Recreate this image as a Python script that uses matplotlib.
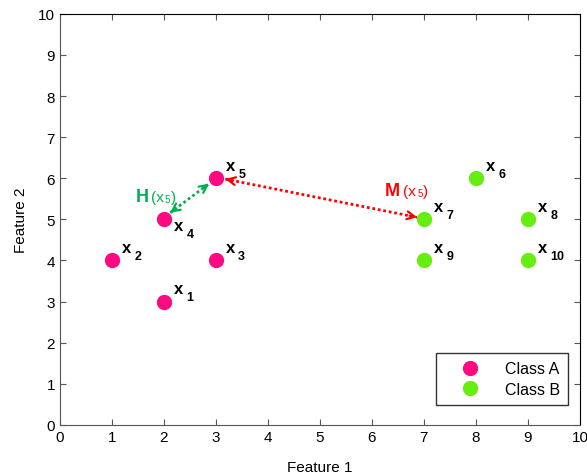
import numpy as np
import matplotlib.pyplot as plt

plt.rcParams['font.family'] = ['Liberation Sans', 'DejaVu Sans']

# ── Données ──────────────────────────────────────────────────────────────────
class_a_x = [2, 1, 3, 2, 3]
class_a_y = [3, 4, 4, 5, 6]
class_a_ids = [1, 2, 3, 4, 5]

class_b_x = [8, 7, 9, 7, 9]
class_b_y = [6, 5, 5, 4, 4]
class_b_ids = [6, 7, 8, 9, 10]

hit_from, hit_to = (2.12, 5.16), (2.87, 5.87)
miss_from, miss_to = (3.18, 5.98), (6.87, 5.05)

COL_A = "#FF0A80"
COL_B = "#66EE11"
COL_HIT = "#00B050"
COL_MISS = "#FF0000"


def double_arrow(ax, p0, p1, color):
    # ligne pointillée + deux têtes pleines
    ax.plot([p0[0], p1[0]], [p0[1], p1[1]], color=color, lw=2,
            linestyle=(0, (1, 1)), zorder=3)
    d = np.array(p1) - np.array(p0)
    d = d / np.hypot(*d) * 0.15
    for tip, back in [(p1, np.array(p1) - d), (p0, np.array(p0) + d)]:
        ax.annotate("", xy=tip, xytext=tuple(back),
                    arrowprops=dict(arrowstyle="->", color=color, lw=1.6,
                                    shrinkA=0, shrinkB=0, mutation_scale=14),
                    zorder=3)


fig = plt.figure(figsize=(5.87, 4.77), dpi=100)
ax = fig.add_axes([0.102, 0.107, 0.886, 0.862])

ax.plot(class_a_x, class_a_y, "o", color=COL_A, markersize=10, label="Class A", zorder=4)
ax.plot(class_b_x, class_b_y, "o", color=COL_B, markersize=10, label="Class B", zorder=4)

for xs, ys, ids in [(class_a_x, class_a_y, class_a_ids), (class_b_x, class_b_y, class_b_ids)]:
    for x, y, i in zip(xs, ys, ids):
        dy = -0.47 if i == 4 else 0.0   # x4 placé sous le point
        ax.text(x + 0.19, y + 0.31 + dy, "x", fontsize=12, fontweight="bold",
                ha="left", va="center")
        ax.text(x + 0.43, y + 0.11 + dy, str(i), fontsize=9, fontweight="bold",
                ha="left", va="center")

double_arrow(ax, hit_from, hit_to, COL_HIT)
double_arrow(ax, miss_from, miss_to, COL_MISS)

ax.text(1.45, 5.55, "H", color=COL_HIT, fontsize=13, fontweight="bold",
        ha="left", va="center")
ax.text(1.75, 5.55, "(x", color=COL_HIT, fontsize=11, ha="left", va="center")
ax.text(2.02, 5.5, "5", color=COL_HIT, fontsize=7, ha="left", va="center")
ax.text(2.13, 5.55, ")", color=COL_HIT, fontsize=11, ha="left", va="center")

ax.text(6.25, 5.7, "M", color=COL_MISS, fontsize=13, fontweight="bold",
        ha="left", va="center")
ax.text(6.6, 5.7, "(x", color=COL_MISS, fontsize=11, ha="left", va="center")
ax.text(6.87, 5.65, "5", color=COL_MISS, fontsize=7, ha="left", va="center")
ax.text(6.98, 5.7, ")", color=COL_MISS, fontsize=11, ha="left", va="center")

ax.set_xlim(0, 10)
ax.set_ylim(0, 10)
ax.set_xticks(range(11))
ax.set_yticks(range(11))
ax.tick_params(direction="in", length=4, labelsize=11, top=True, right=True,
               labeltop=False, labelright=False, color="#555555")
for side in ["left", "bottom"]:
    ax.spines[side].set_color("#555555")
ax.set_xlabel("Feature 1", fontsize=11, labelpad=12)
ax.set_ylabel("Feature 2", fontsize=11, labelpad=7)

leg = ax.legend(loc="lower right", fontsize=11.5, frameon=True, fancybox=False,
                edgecolor="black", borderpad=0.5, handletextpad=0.6,
                handlelength=3.2, labelspacing=0.35, borderaxespad=0,
                bbox_to_anchor=(0.977, 0.049))
leg.get_frame().set_linewidth(1.0)

fig.savefig("out.png", dpi=100)
